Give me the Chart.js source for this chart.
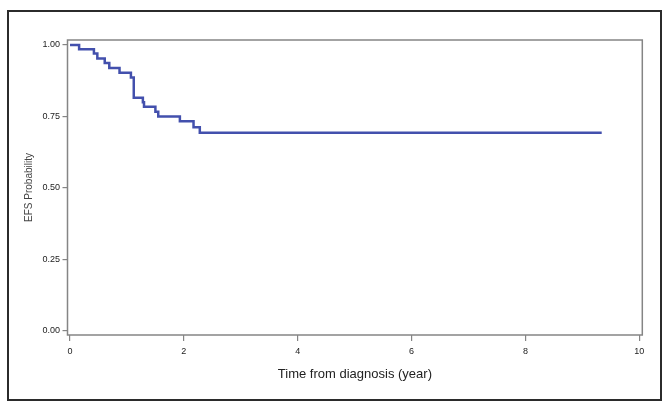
<!DOCTYPE html>
<html>
<head>
<meta charset="utf-8">
<script src="https://cdn.jsdelivr.net/npm/chart.js@4"></script>
<style>
  html, body { margin: 0; padding: 0; background: #fff; }
  canvas { display: block; }
</style>
</head>
<body>
<canvas id="km" width="664" height="402"></canvas>
<script>
// Kaplan-Meier event-free survival
const times = [0, 0.16, 0.42, 0.48, 0.61, 0.69, 0.87, 1.07, 1.12, 1.28, 1.30, 1.50, 1.55, 1.93, 2.17, 2.28, 9.34];
const survival = [1.0, 0.985, 0.970, 0.953, 0.937, 0.920, 0.903, 0.886, 0.816, 0.800, 0.784, 0.767, 0.750, 0.733, 0.712, 0.693, 0.693];
const xTicks = [0, 2, 4, 6, 8, 10];
const yTicks = [0, 0.25, 0.5, 0.75, 1.0];

const axisGray = "#858585";
const tickFont = { family: "'Liberation Sans Narrow', 'Liberation Sans', Arial, sans-serif", size: 9 };

const framePlugin = {
  id: "frame",
  beforeDraw(chart) {
    const { ctx } = chart;
    ctx.save();
    ctx.fillStyle = "#fff";
    ctx.fillRect(0, 0, chart.width, chart.height);
    ctx.strokeStyle = "#2b2b2b";
    ctx.lineWidth = 2;
    ctx.strokeRect(8, 11, 653, 389);
    ctx.restore();
  },
  afterDraw(chart) {
    const { ctx, chartArea: a } = chart;
    ctx.save();
    ctx.strokeStyle = axisGray;
    ctx.lineWidth = 1.5;
    ctx.strokeRect(a.left, a.top, a.right - a.left, a.bottom - a.top);
    ctx.restore();
  },
};

new Chart(document.getElementById("km"), {
  type: "line",
  data: {
    datasets: [{
      data: times.map((t, i) => ({ x: t, y: survival[i] })),
      borderColor: "#4350ad",
      borderWidth: 2.5,
      stepped: true,
      pointRadius: 0,
      fill: false,
    }],
  },
  options: {
    responsive: false,
    animation: false,
    layout: { padding: { left: 0, top: 40, right: 21.7, bottom: 0 } },
    plugins: { legend: { display: false }, tooltip: { enabled: false } },
    scales: {
      x: {
        type: "linear",
        min: -0.044,
        max: 10.053,
        afterBuildTicks: (s) => { s.ticks = xTicks.map((v) => ({ value: v })); },
        afterFit: (s) => { s.height = 67; },
        border: { display: false },
        grid: { drawOnChartArea: false, drawTicks: true, tickLength: 6, color: axisGray, lineWidth: 1.2 },
        ticks: { color: "#222", font: tickFont, padding: 5, maxRotation: 0 },
        title: {
          display: true,
          text: "Time from diagnosis (year)",
          color: "#222",
          font: { family: "Liberation Sans, Arial, sans-serif", size: 13 },
          padding: { top: 0, bottom: 19.7 },
        },
      },
      y: {
        type: "linear",
        min: -0.014,
        max: 1.0175,
        afterBuildTicks: (s) => { s.ticks = yTicks.map((v) => ({ value: v })); },
        afterFit: (s) => { s.width = 67.5; },
        border: { display: false },
        grid: { drawOnChartArea: false, drawTicks: true, tickLength: 5, color: axisGray, lineWidth: 1.2 },
        ticks: { color: "#222", font: tickFont, padding: 2.5, callback: (v) => Number(v).toFixed(2) },
        title: {
          display: true,
          text: "EFS Probability",
          color: "#444",
          font: { family: "Liberation Sans, Arial, sans-serif", size: 10 },
          padding: { top: 23, bottom: 0 },
        },
      },
    },
  },
  plugins: [framePlugin],
});
</script>
</body>
</html>
